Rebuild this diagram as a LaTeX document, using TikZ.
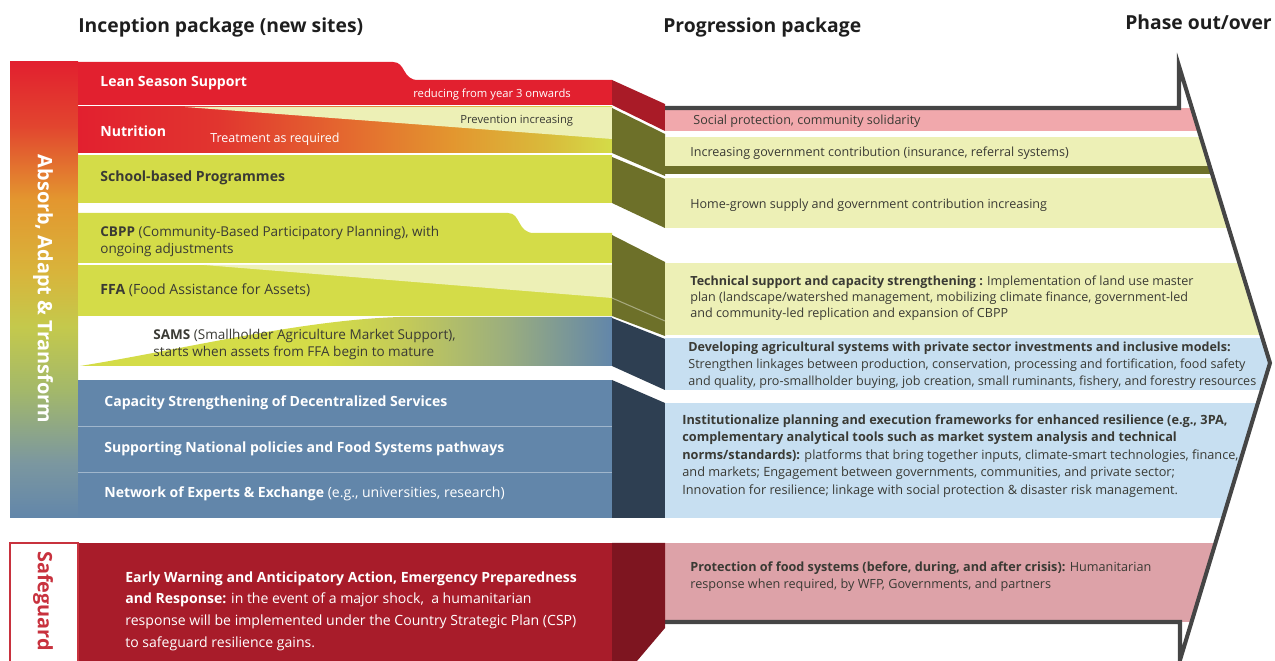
\documentclass[tikz,border=0pt]{standalone}
\usepackage{fontspec}
\setmainfont{Open Sans}
\usepackage{tikz}
\usetikzlibrary{positioning}

\definecolor{leanred}{HTML}{E2202F}
\definecolor{nutred}{HTML}{E1352F}
\definecolor{nutmid}{HTML}{E4682F}
\definecolor{nutorange}{HTML}{E3962F}
\definecolor{nutamber}{HTML}{D9BB3B}
\definecolor{lime}{HTML}{D4DC48}
\definecolor{palelime}{HTML}{EDF0B6}
\definecolor{bevelred}{HTML}{A91B27}
\definecolor{bevelolive}{HTML}{6D7029}
\definecolor{steel}{HTML}{6286AA}
\definecolor{navy}{HTML}{2E3F52}
\definecolor{paleblue}{HTML}{C7DFF1}
\definecolor{softpink}{HTML}{F1A8AC}
\definecolor{dustpink}{HTML}{DDA2A8}
\definecolor{guardred}{HTML}{A81C2A}
\definecolor{guarddark}{HTML}{7E1520}
\definecolor{guardline}{HTML}{C8323E}
\definecolor{arrowgray}{HTML}{454545}
\definecolor{headgray}{HTML}{1E1E1E}
\definecolor{inkgray}{HTML}{3A3A34}
\definecolor{absgrey}{HTML}{7B97A0}
\definecolor{absgreen}{HTML}{A3B86A}
\definecolor{abslime}{HTML}{C4C94C}
\definecolor{absamber}{HTML}{D8B43B}
\definecolor{absred}{HTML}{E2452F}
\definecolor{samsmid}{HTML}{C2C95A}
\definecolor{samsgrey}{HTML}{9BAE7E}

% left column: red at the top, blue at the bottom
\pgfdeclareverticalshading{absorbshade}{100bp}{color(0bp)=(steel); color(25bp)=(steel);
  color(31bp)=(absgrey); color(39bp)=(absgreen); color(46bp)=(abslime);
  color(52bp)=(absamber); color(60bp)=(nutorange); color(68bp)=(absred);
  color(75bp)=(leanred); color(100bp)=(leanred)}
\pgfdeclarehorizontalshading{nutritionshade}{100bp}{color(0bp)=(leanred); color(25bp)=(leanred);
  color(38bp)=(nutred); color(50bp)=(nutmid); color(60bp)=(nutorange);
  color(69bp)=(nutamber); color(75bp)=(lime); color(100bp)=(lime)}
\pgfdeclarehorizontalshading{samsshade}{100bp}{color(0bp)=(lime); color(25bp)=(lime);
  color(48bp)=(lime); color(56bp)=(samsmid); color(65bp)=(samsgrey);
  color(75bp)=(steel); color(100bp)=(steel)}

\begin{document}
\begin{tikzpicture}[x=0.02cm,y=-0.02cm,
    heading/.style={font=\fontsize{11}{13}\selectfont\bfseries, text=headgray, inner sep=0, anchor=west},
    rowhead/.style={font=\fontsize{8}{9.6}\selectfont\bfseries, inner sep=0, anchor=west},
    rowtext/.style={font=\fontsize{7.7}{9.6}\selectfont, inner sep=0, anchor=north west, align=left, text=inkgray},
    rownote/.style={font=\fontsize{6.4}{7.5}\selectfont, inner sep=0, anchor=west},
    bandtext/.style={font=\fontsize{7.15}{9}\selectfont, inner sep=0, anchor=north west, align=left, text=inkgray},
    sidetitle/.style={font=\fontsize{11.3}{13}\selectfont\bfseries, inner sep=0, rotate=-90},
    arrowline/.style={draw=arrowgray, line width=2.3pt, line join=miter},
    sepline/.style={draw=white, line width=0.6pt, opacity=0.4}]

\useasboundingbox (0,0) rectangle (1275,661);

% Headings
\node[heading] (inception) at (78,27) {Inception package (new sites)};
\node[heading] (progression) at (663,27) {Progression package};
\node[heading] (phaseout) at (1125,22) {Phase out/over};

% Absorb, Adapt & Transform column
\path[shading=absorbshade] (10,62) rectangle (78,518);

% Lean Season Support
\fill[leanred] (78,62) -- (393,62) .. controls (406,62) and (402,80) .. (418,80)
    -- (612,80) -- (612,105) -- (78,105) -- cycle;

% Nutrition
\path[shading=nutritionshade] (78,107) rectangle (612,153);
\fill[palelime] (185,107) -- (612,107) -- (612,139) -- cycle;

% School-based Programmes
\fill[lime] (78,155) rectangle (612,203);

% CBPP and FFA
\fill[lime] (78,213) -- (508,213) .. controls (521,213) and (517,233) .. (534,233)
    -- (612,233) -- (612,263) -- (78,263) -- cycle;
\fill[lime] (78,265) rectangle (612,316);
\fill[palelime] (204,265) -- (612,265) -- (612,298) -- cycle;

% SAMS
\path[shading=samsshade] (80,366) .. controls (180,350) and (300,320) .. (400,317)
    -- (612,317) -- (612,366) -- cycle;

% Decentralized services, policies, experts
\fill[steel] (78,380) rectangle (612,518);
\draw[sepline] (78,426.5) -- (612,426.5);
\draw[sepline] (78,472.5) -- (612,472.5);

% Bevels
\fill[bevelred] (612,80) -- (665,104) -- (665,131) -- (612,105) -- cycle;
\fill[bevelolive] (612,108) -- (665,134) -- (665,176) -- (612,153) -- cycle;
\fill[bevelolive] (612,157) -- (665,179) -- (665,228) -- (612,203) -- cycle;
\fill[bevelolive] (612,235) -- (665,262) -- (665,336) -- (612,316) -- cycle;
\draw[sepline] (612,298) -- (665,321);
\fill[navy] (612,318) -- (665,339) -- (665,390) -- (612,366) -- cycle;
\fill[navy] (612,380) -- (665,403) -- (665,518) -- (612,518) -- cycle;

% Progression bands inside the arrow
\begin{scope}
\clip (665,108) -- (1179,108) -- (1179,66) -- (1270,363) -- (1180,660)
    -- (1180,622) -- (665,622) -- cycle;
\fill[softpink] (665,108) rectangle (1275,131);
\fill[palelime] (665,137) rectangle (1275,166);
\fill[bevelolive] (665,166) rectangle (1275,174);
\fill[palelime] (665,178) rectangle (1275,228);
\fill[palelime] (665,263) rectangle (1275,335);
\fill[paleblue] (665,338) rectangle (1275,390);
\fill[paleblue] (665,403) rectangle (1275,518);
\fill[dustpink] (665,543) rectangle (1275,622);
\end{scope}
\draw[arrowline] (665,108) -- (1179,108) -- (1179,66) -- (1270,363) -- (1180,660)
    -- (1180,622) -- (665,622);

% Safeguard
\fill[guardred] (78,543) rectangle (612,661);
\draw[guardline, line width=0.6pt, fill=white] (10,543) rectangle (78,663);
\fill[guarddark] (612,543) -- (665,543) -- (665,628) -- (637,661) -- (612,661) -- cycle;

% Side titles
\node[sidetitle, text=white] (absorb) at (43,289) {Absorb, Adapt \& Transform};
\node[sidetitle, text=guardline] (safeguard) at (43,601) {Safeguard};

% Row labels
\node[rowhead, text=white] (lean) at (100,83) {Lean Season Support};
\node[rownote, text=white] (reducing) at (413,95) {reducing from year 3 onwards};
\node[rowhead, text=white] (nutrition) at (100,131) {Nutrition};
\node[rownote, text=white, font=\fontsize{7.1}{8}\selectfont] (treatment) at (210,139) {Treatment as required};
\node[rownote, text=inkgray] (prevention) at (460,121) {Prevention increasing};
\node[rowhead, text=inkgray] (school) at (100,178) {School-based Programmes};
\node[rowtext] (cbpp) at (100,226) {\textbf{CBPP} (Community-Based Participatory Planning), with\\ongoing adjustments};
\node[rowhead, text=inkgray] (ffa) at (100,290) {FFA \mdseries(Food Assistance for Assets)};
\node[rowtext] (sams) at (153,329) {\textbf{SAMS} (Smallholder Agriculture Market Support),\\starts when assets from FFA begin to mature};
\node[rowhead, text=white] (capacity) at (104,403) {Capacity Strengthening of Decentralized Services};
\node[rowhead, text=white,
    below=0.92cm of capacity.west,
    anchor=west] (national) {Supporting National policies and Food Systems pathways};
\node[rowhead, text=white,
    below=0.9cm of national.west,
    anchor=west] (experts) {Network of Experts \& Exchange \mdseries(e.g., universities, research)};

% Progression texts
\node[bandtext, anchor=west] (social) at (693,121) {Social protection, community solidarity};
\node[bandtext, anchor=west] (government) at (690,153) {Increasing government contribution (insurance, referral systems)};
\node[bandtext, anchor=west] (homegrown) at (690,205) {Home-grown supply and government contribution increasing};
\node[bandtext] (technical) at (690,276) {\textbf{Technical support and capacity strengthening :} Implementation of land use master\\plan (landscape/watershed management, mobilizing climate finance, government-led\\and community-led replication and expansion of CBPP};
\node[bandtext, font=\fontsize{7.15}{9.6}\selectfont] (developing) at (688,342) {\textbf{Developing agricultural systems with private sector investments and inclusive models:}\\Strengthen linkages between production, conservation, processing and fortification, food safety\\and quality, pro-smallholder buying, job creation, small ruminants, fishery, and forestry resources};
\node[bandtext, font=\fontsize{7.25}{9.95}\selectfont] (institution) at (682,414) {\textbf{Institutionalize planning and execution frameworks for enhanced resilience (e.g., 3PA,}\\\textbf{complementary analytical tools such as market system analysis and technical}\\\textbf{norms/standards):} platforms that bring together inputs, climate-smart technologies, finance,\\and markets; Engagement between governments, communities, and private sector;\\Innovation for resilience; linkage with social protection \& disaster risk management.};
\node[bandtext, font=\fontsize{7.2}{10.2}\selectfont] (protection) at (690,561) {\textbf{Protection of food systems (before, during, and after crisis):} Humanitarian\\response when required, by WFP, Governments, and partners};
\node[bandtext, text=white, font=\fontsize{8}{12.5}\selectfont] (earlywarning) at (125,571) {\textbf{Early Warning and Anticipatory Action, Emergency Preparedness}\\\textbf{and Response:} in the event of a major shock,~ a humanitarian\\response will be implemented under the Country Strategic Plan (CSP)\\to safeguard resilience gains.};

\end{tikzpicture}
\end{document}
